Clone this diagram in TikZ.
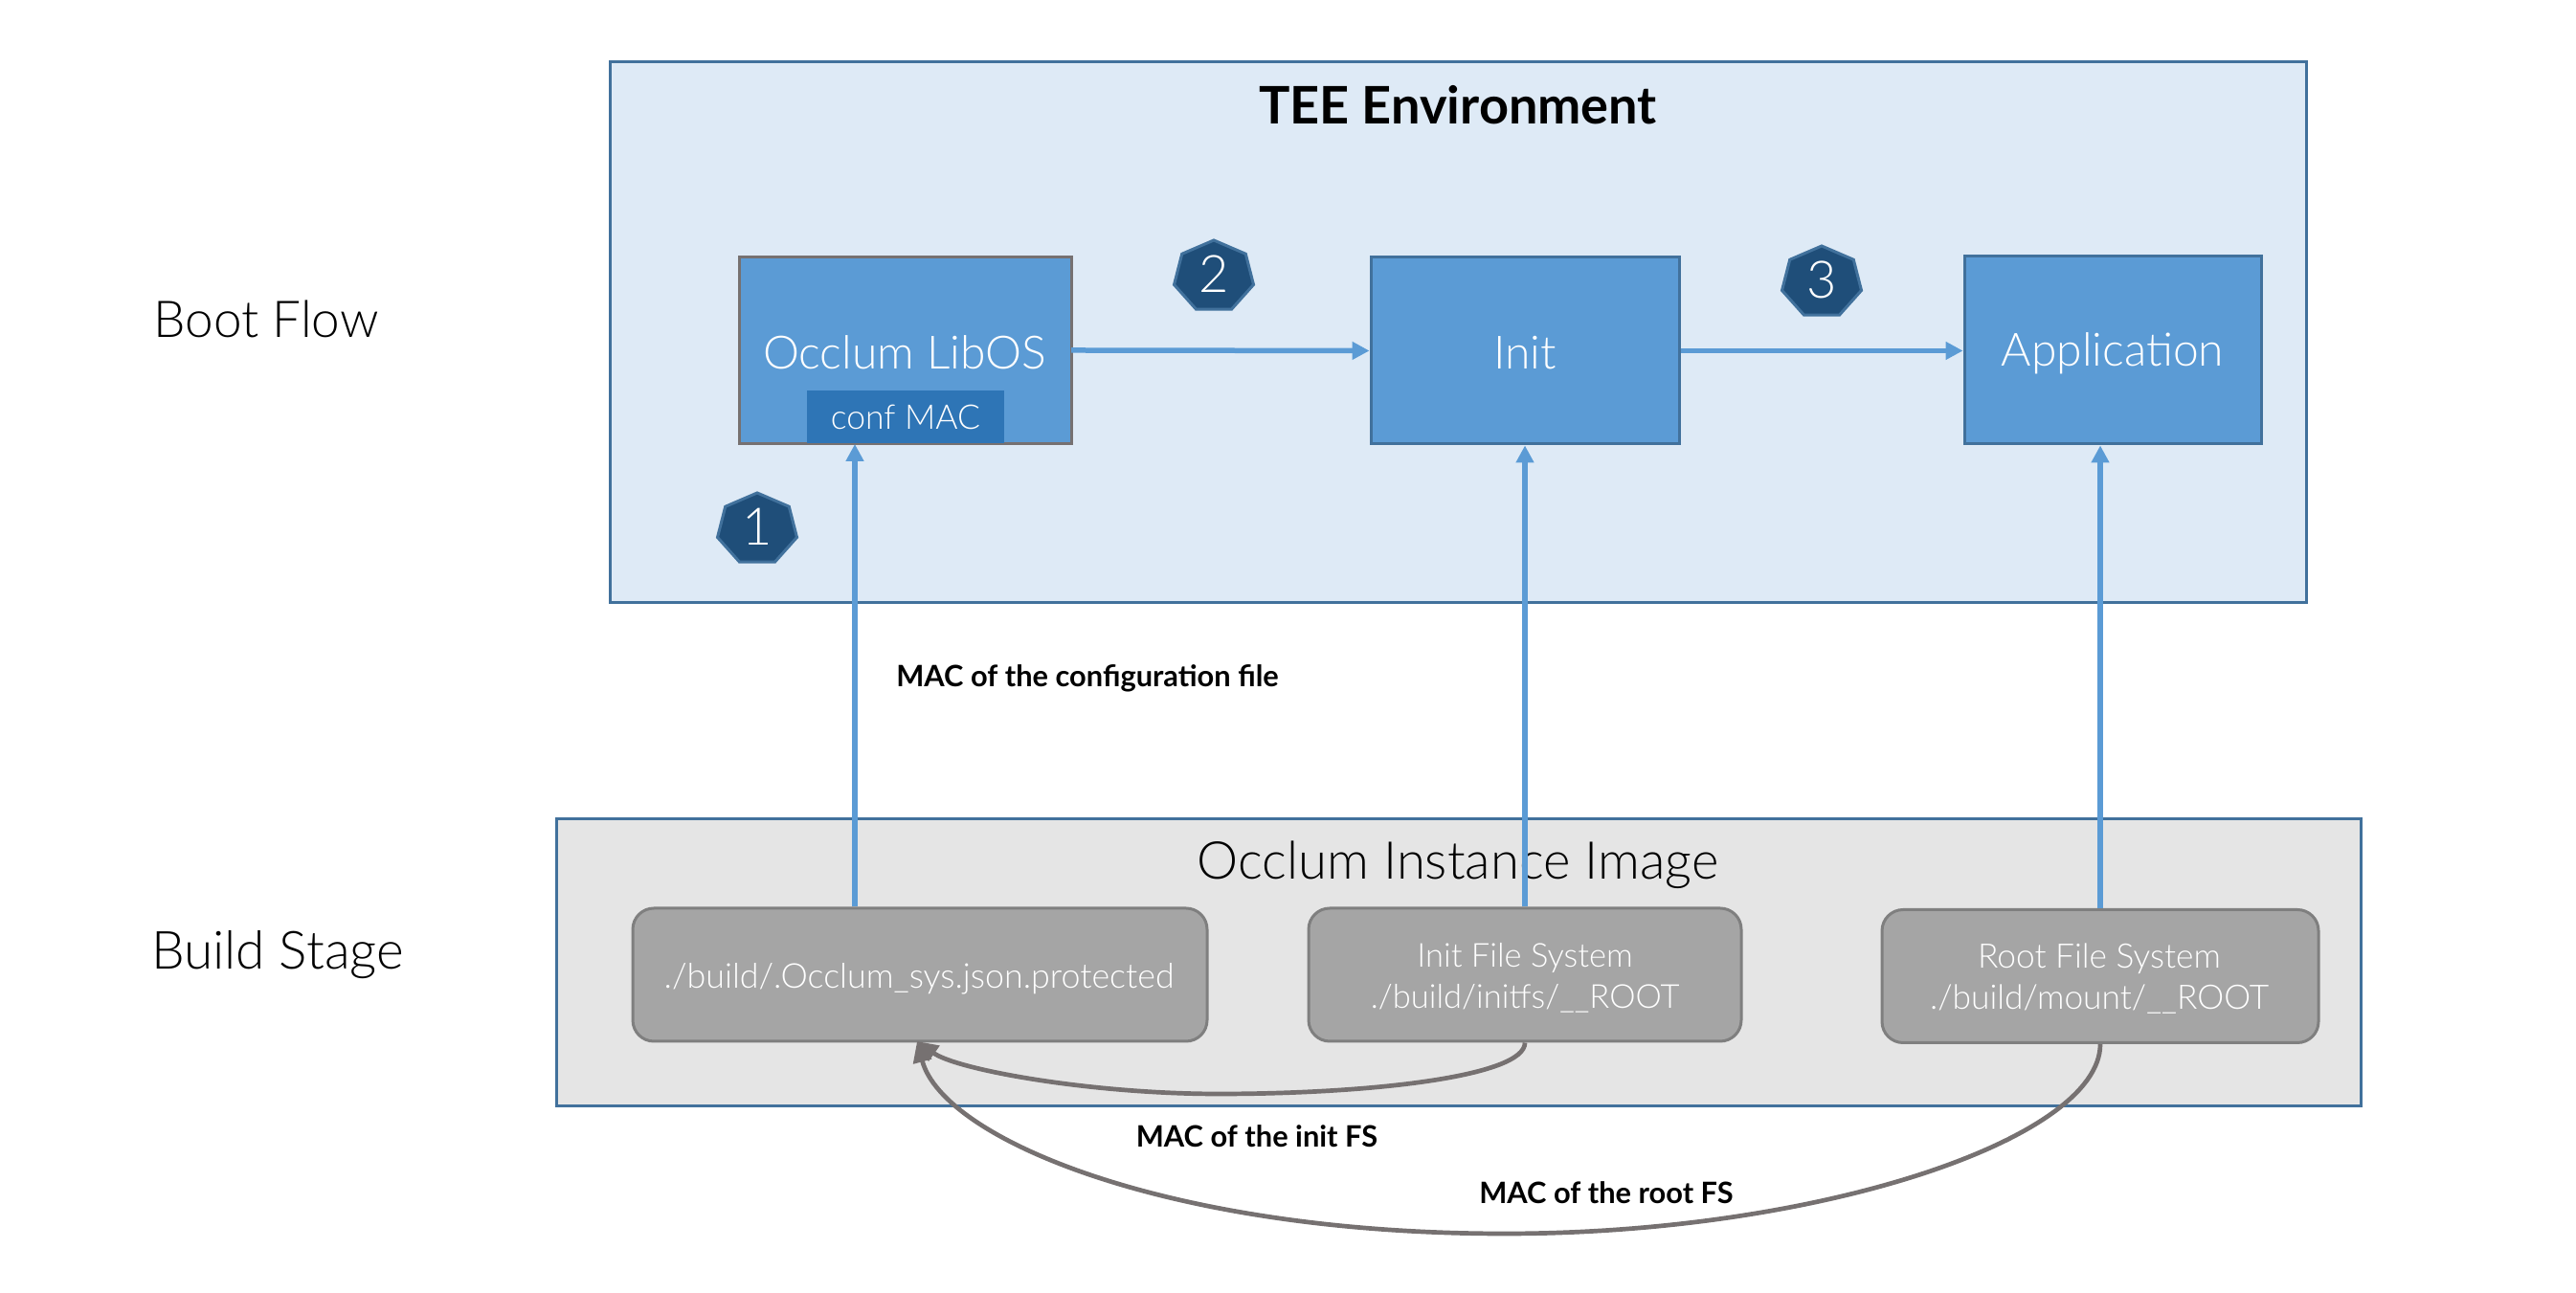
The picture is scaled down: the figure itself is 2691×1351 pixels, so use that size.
\documentclass[tikz,border=0pt]{standalone}
\usepackage{fontspec}
\usetikzlibrary{arrows.meta}
\setmainfont{Lato Light}
\newfontfamily\semib{Lato Bold}
\definecolor{edgeblue}{HTML}{41719C}
\definecolor{teefill}{HTML}{DEEAF6}
\definecolor{boxblue}{HTML}{5B9BD5}
\definecolor{macblue}{HTML}{2E75B6}
\definecolor{hepfill}{HTML}{1F4E79}
\definecolor{imgfill}{HTML}{E5E5E5}
\definecolor{fsfill}{HTML}{A5A5A5}
\definecolor{fsedge}{HTML}{7F7F7F}
\definecolor{curve}{HTML}{767171}
\begin{document}
\begin{tikzpicture}[x=0.1pt,y=-0.1pt,
  region/.style={draw=edgeblue,line width=0.3pt},
  stepbox/.style={rectangle,fill=boxblue,draw=edgeblue,line width=0.3pt,inner sep=0pt},
  steptext/.style={text=white,inner sep=0pt,font=\fontsize{4.8pt}{5.5pt}\selectfont},
  fsbox/.style={rectangle,rounded corners=2.2pt,fill=fsfill,draw=fsedge,line width=0.3pt,inner sep=0pt},
  fstext/.style={text=white,inner sep=0pt,align=center,font=\fontsize{#1}{4.3pt}\selectfont},
  hep/.style={fill=hepfill,draw=edgeblue,line width=0.3pt},
  heptext/.style={text=white,font=\fontsize{5.4pt}{6pt}\selectfont,inner sep=0pt},
  flow/.style={draw=boxblue,line width=0.55pt,-{Triangle[length=1.8pt,width=1.8pt]}},
  back/.style={draw=curve,line width=0.47pt,-{Triangle[length=2.2pt,width=1.9pt]}},
  maclabel/.style={font=\semib\fontsize{3.08pt}{3.5pt}\selectfont,inner sep=0pt},
  heading/.style={font=\fontsize{#1}{6pt}\selectfont,inner sep=0pt}
]
\useasboundingbox (0,0) rectangle (2691,1351);
\fill[white] (0,0) rectangle (2691,1351);
\draw[region,fill=teefill] (637,65) rectangle (2409,630);
\draw[region,fill=imgfill] (581,856) rectangle (2466,1156);
\node[font=\semib\fontsize{5.41pt}{6pt}\selectfont,inner sep=0pt] (teetitle) at (1523,110) {TEE Environment};
\node[heading=5.45pt] (imgtitle) at (1523,904) {Occlum Instance Image};
\node[heading=5.3pt] (bootflow) at (278,333) {Boot Flow};
\node[heading=5.5pt] (buildstage) at (290,998) {Build Stage};
% boot boxes
\node[stepbox,draw=curve,minimum width=34.7pt,minimum height=19.5pt] (libosbox) at (945.5,366.5) {};
\coordinate (libosE) at (1119,366);
\coordinate (libosS) at (893,464);
\node[steptext] (libos) at (945,368) {Occlum LibOS};
\node[fill=macblue,minimum width=20.6pt,minimum height=5.5pt,inner sep=0pt,text=white,font=\fontsize{3.55pt}{4pt}\selectfont] (conf) at (946,436) {conf MAC};
\node[stepbox,minimum width=32.2pt,minimum height=19.5pt] (init) at (1593,366.5) {};
\node[steptext] (inittext) at (1593,369) {Init};
\node[stepbox,minimum width=31pt,minimum height=19.6pt] (app) at (2207,366) {};
\node[steptext] (apptext) at (2207,369) {Application};
% heptagons
\foreach \n/\cx/\cy in {1/791/553,2/1268/289,3/1903/295}{
  \draw[hep] (\cx,\cy-38)
    \foreach \a in {1,...,6}{ -- ({\cx+41.5*sin(\a*360/7)/0.975},{\cy-38*cos(\a*360/7)}) } -- cycle;
  \node[heptext] (hep\n) at (\cx,\cy-3) {\n};
}
% file system boxes
\node[fsbox,minimum width=60pt,minimum height=13.9pt] (conffile) at (961,1018.5) {};
\node[fstext=3.58pt] (conftext) at (960,1023) {./build/.Occlum\_sys.json.protected};
\node[fsbox,minimum width=45.2pt,minimum height=13.9pt] (initfs) at (1593,1018.5) {};
\node[fstext=3.45pt] (inittxt) at (1593,1022) {Init File System\\./build/initfs/\_\_ROOT};
\node[fsbox,minimum width=45.6pt,minimum height=13.9pt] (rootfs) at (2194,1020) {};
\node[fstext=3.53pt] (roottxt) at (2193,1023) {Root File System\\./build/mount/\_\_ROOT};
% vertical flows
\draw[flow] (conffile.north -| libosS) -- (libosS);
\draw[flow] (initfs.north) -- (init.south);
\draw[flow] (rootfs.north) -- (rootfs.north |- app.south);
% horizontal flows
\draw[flow] (libosE) -- (init.west);
\draw[flow] (init.east) -- (init.east -| app.west);
% curves
\coordinate (tip) at (958,1088);
\coordinate (initlow) at (1273,1143);
\coordinate (rootlow) at (1572,1289);
\draw[back] (initfs.south) .. controls (1593,1125) and (1430,1143) .. (initlow) .. controls (1140,1143) and (1000,1118) .. (tip);
\draw[back] (rootfs.south) .. controls (2194,1190) and (1900,1289) .. (rootlow) .. controls (1220,1289) and (985,1190) .. (tip);
% labels
\node[maclabel] (lab1) at (1136,709) {MAC of the configuration file};
\node[maclabel] (lab2) at (1313,1187) {MAC of the init FS};
\node[maclabel] (lab3) at (1678,1246) {MAC of the root FS};
\end{tikzpicture}
\end{document}
